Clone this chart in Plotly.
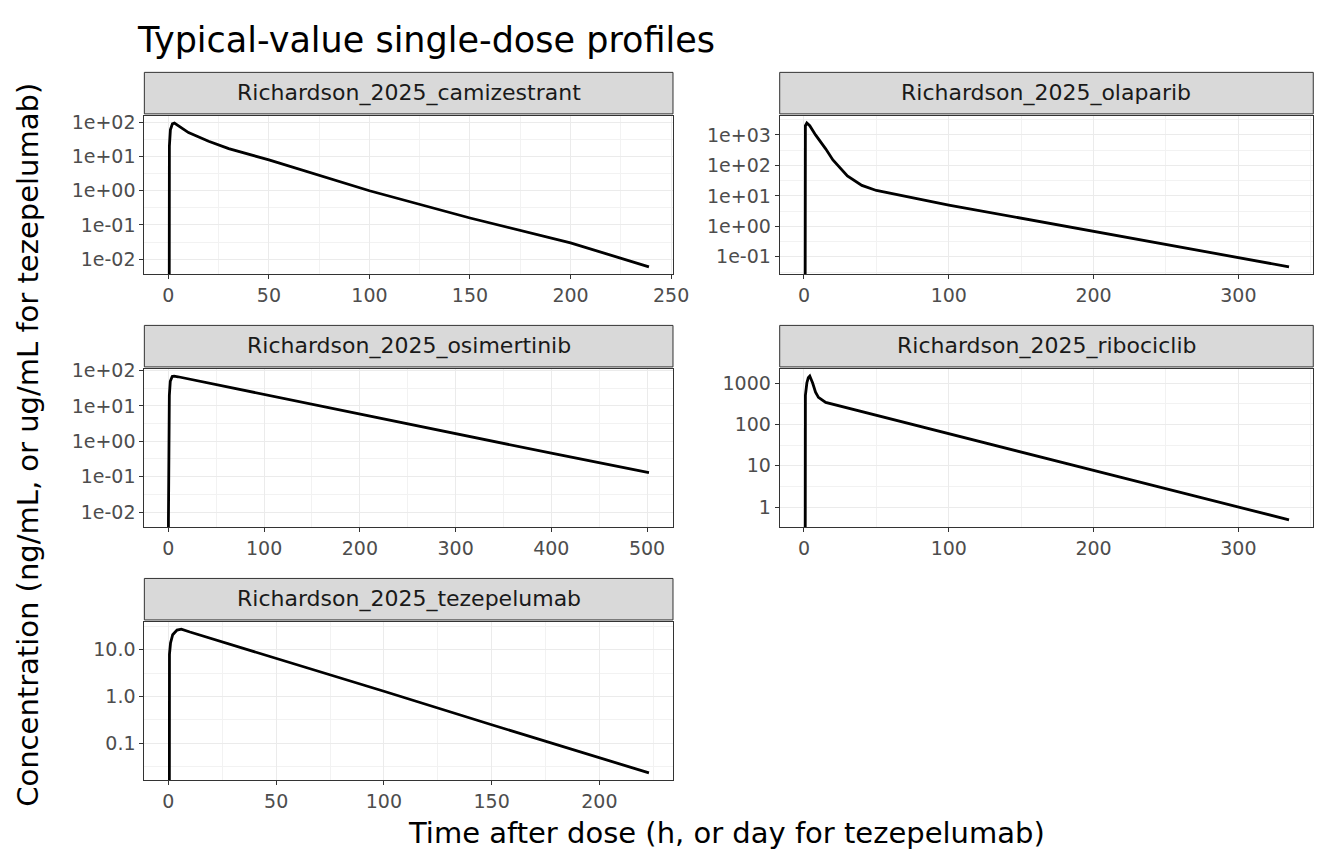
import math
import plotly.graph_objects as go

W, H = 1344, 864
OFF = 8  # page body margin

# ---- data (time, concentration) ----
cami_t = [0, 0.5, 1, 2, 3, 5, 10, 20, 30, 50, 100, 150, 200, 239]
cami_c = [0, 20, 60, 90, 95, 80, 50, 28, 17, 8, 1.0, 0.16, 0.03, 0.006]

olap_t = [0, 0.5, 1, 2, 4, 8, 15, 20, 30, 40, 50, 100, 200, 335]
olap_c = [0, 800, 2000, 2450, 2000, 1000, 350, 150, 45, 22, 15, 5, 0.7, 0.047]

osim_t = [0, 0.05, 1, 2, 4, 6, 10, 100, 200, 300, 400, 502]
osim_c = [0, 0.006, 20, 50, 68, 70, 67, 21, 5.9, 1.65, 0.46, 0.13]

ribo_t = [0, 0.5, 1, 2, 3, 4, 6, 8, 10, 15, 100, 200, 335]
ribo_c = [0, 150, 500, 1000, 1350, 1470, 1000, 600, 450, 340, 59, 7.7, 0.49]

teze_t = [0, 0.5, 1, 2, 4, 6, 10, 50, 100, 150, 200, 223]
teze_c = [0, 8, 14, 21, 26.5, 27.7, 24, 6.6, 1.3, 0.25, 0.05, 0.0234]

names = ["Richardson_2025_camizestrant", "Richardson_2025_olaparib",
         "Richardson_2025_osimertinib", "Richardson_2025_ribociclib",
         "Richardson_2025_tezepelumab"]

x_breaks = [[0, 50, 100, 150, 200, 250], [0, 100, 200, 300],
            [0, 100, 200, 300, 400, 500], [0, 100, 200, 300],
            [0, 50, 100, 150, 200]]
y_breaks = [[1e-2, 1e-1, 1, 10, 100], [0.1, 1, 10, 100, 1000],
            [1e-2, 1e-1, 1, 10, 100], [1, 10, 100, 1000], [0.1, 1, 10]]
y_labels = [["1e-02", "1e-01", "1e+00", "1e+01", "1e+02"],
            ["1e-01", "1e+00", "1e+01", "1e+02", "1e+03"],
            ["1e-02", "1e-01", "1e+00", "1e+01", "1e+02"],
            ["1", "10", "100", "1000"], ["0.1", "1.0", "10.0"]]

series = [(cami_t, cami_c), (olap_t, olap_c), (osim_t, osim_c),
          (ribo_t, ribo_c), (teze_t, teze_c)]

# panel boxes in pixels: (left, right, top, bottom)
cols = [(146, 681), (789, 1329)]
rows = [(107, 267), (363, 523), (619, 779)]
STRIP_H = 42


def px(v):
    return (v - OFF) / W


def py(v):
    return 1 - (v - OFF) / H


fig = go.Figure()
shapes, annotations = [], []
tick_font = dict(family="DejaVu Sans", size=19, color="#4D4D4D")

for i, (name, (t, c)) in enumerate(zip(names, series)):
    left, right = cols[i % 2]
    top, bottom = rows[i // 2]
    ax = "" if i == 0 else str(i + 1)

    # ggplot-style 5% expansion
    tmax = max(t)
    xr = [-0.05 * tmax, 1.05 * tmax]
    logs = [math.log10(v) for v in c if v > 0]
    span = max(logs) - min(logs)
    yr = [min(logs) - 0.05 * span, max(logs) + 0.05 * span]

    # zero concentration drawn down to the panel floor
    c_plot = [v if v > 0 else 1e-30 for v in c]
    fig.add_trace(go.Scatter(x=t, y=c_plot, mode="lines",
                             line=dict(color="black", width=2.8),
                             xaxis="x" + ax, yaxis="y" + ax,
                             showlegend=False, hoverinfo="skip"))

    xb = x_breaks[i]
    step = xb[1] - xb[0]
    x_minor = [b + step / 2 for b in [xb[0] - step] + xb]
    yb = y_breaks[i]
    y_minor = [10 ** (math.log10(b) + 0.5) for b in [yb[0] / 10] + yb]

    common = dict(showline=True, linecolor="#333333", linewidth=1, mirror=True,
                  ticks="outside", ticklen=4, tickcolor="#333333",
                  showgrid=True, gridcolor="#EBEBEB", gridwidth=1.3,
                  zeroline=False, tickfont=tick_font)
    minor = dict(showgrid=True, gridcolor="#F2F2F2", gridwidth=0.7, ticklen=0)

    fig.layout["xaxis" + ax] = dict(
        common, domain=[px(left), px(right)], range=xr,
        tickvals=xb, ticktext=[str(v) for v in xb],
        minor=dict(minor, tickvals=x_minor),
        anchor="y" + ax)
    fig.layout["yaxis" + ax] = dict(
        common, domain=[py(bottom), py(top)], type="log", range=yr,
        tickvals=yb, ticktext=y_labels[i],
        minor=dict(minor, tickvals=y_minor),
        anchor="x" + ax)

    # facet strip
    shapes.append(dict(type="rect", xref="paper", yref="paper",
                       x0=px(left), x1=px(right),
                       y0=py(top - 2), y1=py(top - 2 - STRIP_H),
                       fillcolor="#D9D9D9", line=dict(color="#333333", width=1)))
    annotations.append(dict(text=name, xref="paper", yref="paper",
                            x=px((left + right) / 2), y=py(top - 2 - STRIP_H / 2),
                            showarrow=False, xanchor="center", yanchor="middle",
                            font=dict(family="DejaVu Sans", size=22, color="#1A1A1A")))

annotations.append(dict(text="Time after dose (h, or day for tezepelumab)",
                        xref="paper", yref="paper", x=px(735), y=py(833),
                        showarrow=False, xanchor="center", yanchor="middle",
                        font=dict(family="DejaVu Sans", size=29, color="black")))
annotations.append(dict(text="Concentration (ng/mL, or ug/mL for tezepelumab)",
                        xref="paper", yref="paper", x=px(28), y=py(440),
                        textangle=-90, showarrow=False,
                        xanchor="center", yanchor="middle",
                        font=dict(family="DejaVu Sans", size=29, color="black")))
annotations.append(dict(text="Typical-value single-dose profiles",
                        xref="paper", yref="paper", x=px(137), y=py(30),
                        showarrow=False, xanchor="left", yanchor="middle",
                        font=dict(family="DejaVu Sans", size=35, color="black")))

fig.update_layout(width=W, height=H, margin=dict(l=0, r=0, t=0, b=0),
                  paper_bgcolor="white", plot_bgcolor="white",
                  shapes=shapes, annotations=annotations)

fig.write_html("out.html")
